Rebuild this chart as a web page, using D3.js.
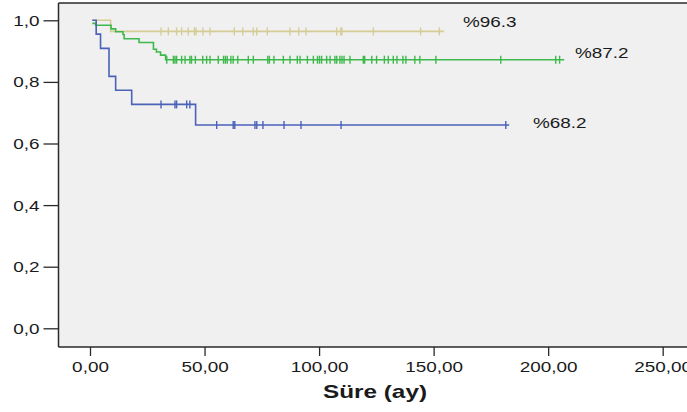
<!DOCTYPE html>
<html><head><meta charset="utf-8">
<script src="https://cdn.jsdelivr.net/npm/d3@7"></script>
<style>
html,body{margin:0;padding:0;background:#fff;}
svg{display:block;}
text{font-family:"Liberation Sans",Arial,sans-serif;fill:#1a1a1a;}
</style></head>
<body>
<svg id="chart" width="687" height="412"></svg>
<script>
// ---- data ----
const xTickValues = [0, 50, 100, 150, 200, 250];
const xTickLabels = ["0,00", "50,00", "100,00", "150,00", "200,00", "250,00"];
const yTickValues = [0, 0.2, 0.4, 0.6, 0.8, 1.0];
const yTickLabels = ["0,0", "0,2", "0,4", "0,6", "0,8", "1,0"];
const xAxisTitle = "Süre (ay)";

const seriesNames = ["tan", "green", "blue"];
const seriesLabels = ["%96.3", "%87.2", "%68.2"];

// step times (months) and survival after each step
const tanTimes = [1.0, 9.0];
const tanSurv  = [1.0, 0.964];
const tanEnd   = 154.5;
const tanCensor = [31.0, 34.2, 37.8, 40.0, 42.9, 45.6, 46.3, 49.3, 52.4, 63.0, 66.7, 71.3, 72.8,
  77.4, 87.3, 91.1, 94.3, 107.7, 109.4, 110.0, 123.7, 144.3, 152.5];

const greenTimes = [1.0, 2.5, 9.2, 11.2, 14.4, 14.9, 21.4, 27.7, 29.0, 30.8, 33.0];
const greenSurv  = [0.990, 0.984, 0.972, 0.963, 0.954, 0.940, 0.928, 0.906, 0.897, 0.887, 0.872];
const greenEnd   = 207.0;
const greenCensor = [33.5, 36.4, 37.1, 37.8, 40.0, 41.5, 43.6, 44.3, 46.0, 49.2, 50.9, 52.4, 56.0,
  58.3, 59.1, 59.9, 61.5, 62.5, 64.5, 69.1, 71.3, 77.6, 78.3, 80.3, 84.4, 87.3, 90.5, 91.7, 94.9,
  97.5, 99.3, 100.2, 101.1, 103.3, 104.8, 106.9, 107.7, 109.1, 110.0, 110.9, 113.5, 119.3, 119.9,
  123.0, 125.1, 128.5, 130.2, 132.4, 134.0, 136.6, 137.9, 141.8, 144.0, 151.0, 179.3, 203.3, 205.0];

const blueTimes = [1.0, 2.7, 4.6, 8.3, 11.2, 18.2, 46.1];
const blueSurv  = [1.0, 0.955, 0.909, 0.818, 0.773, 0.727, 0.660];
const blueEnd   = 183.0;
const blueCensor = [31.0, 37.1, 37.8, 42.2, 43.6, 55.3, 62.5, 63.2, 72.0, 72.8, 75.5, 84.7, 92.1, 109.6, 181.5];

// ---- layout / style ----
const colors = {tan: "#d6cc95", green: "#3db94c", blue: "#4a62b8"};
const stretch = 1.35;
const plot = {left: 58.5, top: 3, right: 700, bottom: 347};
const labelPos = {tan: [463, 27], green: [575, 58], blue: [533, 128]};

const svg = d3.select("#chart");
const x = d3.scaleLinear().domain([0, 250]).range([90, 662.7]);
const y = d3.scaleLinear().domain([0, 1]).range([328.3, 20.3]);

svg.append("rect").attr("x", plot.left).attr("y", plot.top)
  .attr("width", plot.right - plot.left).attr("height", plot.bottom - plot.top)
  .attr("fill", "#f0f0f0");
// frame
svg.append("line").attr("x1", plot.left).attr("x2", 687).attr("y1", plot.top).attr("y2", plot.top)
  .attr("stroke", "#2a2a2a").attr("stroke-width", 1.5);
svg.append("line").attr("x1", plot.left).attr("x2", plot.left).attr("y1", plot.top).attr("y2", plot.bottom)
  .attr("stroke", "#2a2a2a").attr("stroke-width", 1.5);
svg.append("line").attr("x1", plot.left).attr("x2", 687).attr("y1", plot.bottom).attr("y2", plot.bottom)
  .attr("stroke", "#2a2a2a").attr("stroke-width", 1.5);

function sText(g, tx, ty, str, anchor, size, weight) {
  return g.append("text")
    .attr("transform", `translate(${tx},${ty}) scale(${stretch},1)`)
    .attr("text-anchor", anchor).attr("font-size", size).attr("font-weight", weight || "normal")
    .text(str);
}

// y axis
const yAxis = d3.axisLeft(y).tickValues(yTickValues).tickSize(15).tickFormat((d, i) => yTickLabels[i]);
const gy = svg.append("g").attr("transform", `translate(${plot.left},0)`).call(yAxis);
gy.select(".domain").remove();
gy.selectAll(".tick line").attr("stroke", "#2a2a2a").attr("stroke-width", 1.3);
gy.selectAll(".tick text").remove();
gy.selectAll(".tick").each(function(d, i) {
  sText(d3.select(this), -19, 5, yTickLabels[i], "end", 14);
});

// x axis
const xAxis = d3.axisBottom(x).tickValues(xTickValues).tickSize(9).tickFormat((d, i) => xTickLabels[i]);
const gx = svg.append("g").attr("transform", `translate(0,${plot.bottom})`).call(xAxis);
gx.select(".domain").remove();
gx.selectAll(".tick line").attr("stroke", "#2a2a2a").attr("stroke-width", 1.3);
gx.selectAll(".tick text").remove();
gx.selectAll(".tick").each(function(d, i) {
  sText(d3.select(this), 0, 25, xTickLabels[i], "middle", 14);
});

sText(svg, 375, 398, xAxisTitle, "middle", 18, "bold");

// curves
const series = [
  {name: "tan", times: tanTimes, surv: tanSurv, end: tanEnd, censor: tanCensor},
  {name: "green", times: greenTimes, surv: greenSurv, end: greenEnd, censor: greenCensor},
  {name: "blue", times: blueTimes, surv: blueSurv, end: blueEnd, censor: blueCensor}
];

const line = d3.line().x(d => x(d[0])).y(d => y(d[1])).curve(d3.curveStepAfter);
function survAt(s, t) {
  let v = s.surv[0];
  s.times.forEach((tt, i) => { if (tt <= t) v = s.surv[i]; });
  return v;
}
series.forEach((s, si) => {
  const pts = s.times.map((t, i) => [t, s.surv[i]]);
  pts.push([s.end, s.surv[s.surv.length - 1]]);
  const g = svg.append("g");
  g.append("path").attr("d", line(pts)).attr("fill", "none")
    .attr("stroke", colors[s.name]).attr("stroke-width", 1.6);
  g.selectAll("line.c").data(s.censor).enter().append("line")
    .attr("x1", d => x(d)).attr("x2", d => x(d))
    .attr("y1", d => y(survAt(s, d)) - 4).attr("y2", d => y(survAt(s, d)) + 4)
    .attr("stroke", colors[s.name]).attr("stroke-width", 1.4);
  sText(svg, labelPos[s.name][0], labelPos[s.name][1], seriesLabels[si], "start", 14);
});
</script>
</body></html>
